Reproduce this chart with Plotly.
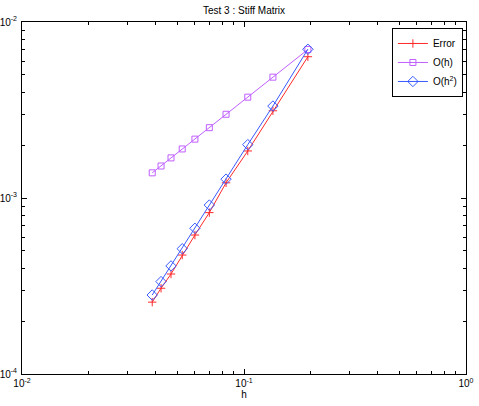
import plotly.graph_objects as go

h = [0.194, 0.135, 0.104, 0.083, 0.0698, 0.0601, 0.0527, 0.0469, 0.0423, 0.0386]
err = [6.35e-3, 3.13e-3, 1.85e-3, 1.22e-3, 8.26e-4, 6.16e-4, 4.74e-4, 3.70e-4, 3.07e-4, 2.56e-4]
oh = [6.98e-3, 4.86e-3, 3.74e-3, 2.99e-3, 2.51e-3, 2.16e-3, 1.90e-3, 1.69e-3, 1.52e-3, 1.39e-3]
oh2 = [7.0e-3, 3.33e-3, 2.01e-3, 1.28e-3, 9.12e-4, 6.73e-4, 5.15e-4, 4.11e-4, 3.35e-4, 2.81e-4]

x_major = [1e-2, 1e-1, 1e0]
x_labels = ["10<sup>-2</sup>", "10<sup>-1</sup>", "10<sup>0</sup>"]
y_major = [1e-4, 1e-3, 1e-2]
y_labels = ["10<sup>-4</sup>", "10<sup>-3</sup>", "10<sup>-2</sup>"]

x_minor = [m * d for d in (1e-2, 1e-1) for m in range(2, 10)]
y_minor = [m * d for d in (1e-4, 1e-3) for m in range(2, 10)]

FONT = "Liberation Sans, Arial, sans-serif"

fig = go.Figure()
fig.add_trace(go.Scatter(x=h, y=err, name="Error", mode="lines+markers",
                         line=dict(color="#ff2a2a", width=1),
                         marker=dict(symbol="cross-thin-open", size=6,
                                     line=dict(color="#ff2a2a", width=1))))
fig.add_trace(go.Scatter(x=h, y=oh, name="O(h)", mode="lines+markers",
                         line=dict(color="#bf5fff", width=1),
                         marker=dict(symbol="square-open", size=6,
                                     line=dict(color="#bf5fff", width=1))))
fig.add_trace(go.Scatter(x=h, y=oh2, name="O(h<sup>2</sup>)", mode="lines+markers",
                         line=dict(color="#3a5aff", width=1),
                         marker=dict(symbol="diamond-open", size=8,
                                     line=dict(color="#3a5aff", width=1))))

axis_common = dict(type="log", showgrid=False, zeroline=False, showline=True,
                   linecolor="black", linewidth=1, mirror="ticks",
                   ticks="inside", ticklen=5, tickcolor="black",
                   automargin=False,
                   tickfont=dict(family=FONT, size=10, color="black"))

fig.update_xaxes(**axis_common, range=[-2, 0], tickmode="array",
                 tickvals=x_major, ticktext=x_labels,
                 minor=dict(tickmode="array", tickvals=x_minor, ticks="inside",
                            ticklen=3, tickcolor="black"),
                 title=dict(text="h", font=dict(family=FONT, size=10, color="black"),
                            standoff=0))
fig.update_yaxes(**axis_common, range=[-4, -2], tickmode="array",
                 tickvals=y_major, ticktext=y_labels, ticklabelstandoff=2,
                 minor=dict(tickmode="array", tickvals=y_minor, ticks="inside",
                            ticklen=3, tickcolor="black"))

fig.update_layout(
    width=479, height=406,
    margin=dict(l=22, r=13, t=22, b=32),
    paper_bgcolor="white", plot_bgcolor="white",
    title=dict(text="Test 3 : Stiff Matrix", x=0.5, xanchor="center",
               xref="paper",
               y=1 - 10 / 406, yanchor="middle",
               font=dict(family=FONT, size=10, color="black")),
    legend=dict(x=0.993, y=0.983, xanchor="right", yanchor="top",
                bgcolor="white", bordercolor="black", borderwidth=1,
                font=dict(family=FONT, size=10, color="black"),
                tracegroupgap=0, itemwidth=30),
    showlegend=True,
)

fig.write_html("out.html", config={"displayModeBar": False},
               post_script="document.body.style.margin='0';document.body.style.padding='0';document.body.style.overflow='hidden';")
